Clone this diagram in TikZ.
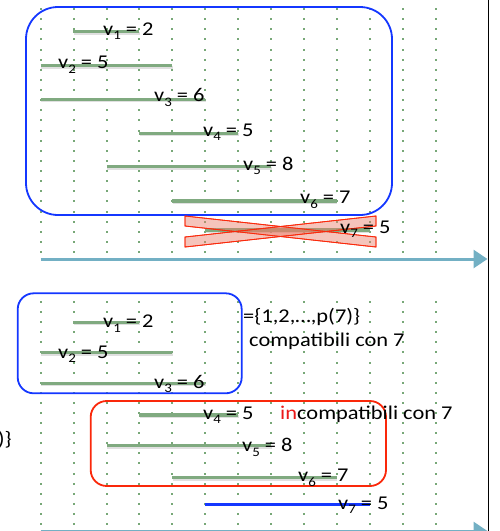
\documentclass[tikz,border=0pt]{standalone}
\usepackage{fontspec}
\setmainfont{Carlito}[FakeStretch=1.15]
\usetikzlibrary{arrows.meta}

\definecolor{barGreen}{RGB}{128,170,128}
\definecolor{dotGreen}{RGB}{120,168,120}
\definecolor{boxBlue}{RGB}{20,55,255}
\definecolor{boxRed}{RGB}{250,40,10}
\definecolor{axisTeal}{RGB}{115,176,196}
\definecolor{crossFill}{RGB}{232,125,105}
\definecolor{wordRed}{RGB}{235,25,25}

% job label "v_i" with a lowered index
\newcommand\vlab[1]{v\raisebox{-4.5pt}{\fontsize{13}{13}\selectfont #1}}

\tikzset{
  gridDot/.style={fill=dotGreen},
  jobBar/.style={draw=barGreen, line width=3.4pt},
  barShade/.style={draw=black!35, line width=3pt, opacity=0.35},
  chosenBar/.style={draw=boxBlue, line width=3pt},
  setBox/.style={draw=boxBlue, line width=1.8pt},
  badBox/.style={draw=boxRed, line width=1.8pt},
  crossBand/.style={draw=boxRed, line width=0.8pt, fill=crossFill, fill opacity=0.45},
  timeAxis/.style={draw=axisTeal, line width=3pt, -{Triangle[length=14pt,width=18pt]}},
  lab/.style={inner sep=0pt, anchor=base west, font=\fontsize{19.5}{22}\selectfont},
}

\begin{document}
\begin{tikzpicture}[x=1pt,y=-1pt]
\useasboundingbox (0,0) rectangle (499,531);
\clip (0,0) rectangle (499,531);

% dotted time grid, upper and lower panels
\foreach \c in {0,...,12}{
  \foreach \r in {0,...,24}
    \fill[gridDot] ({40.7+32.9*\c-1},{9+10.125*\r-1}) rectangle ++(2,2);
  \foreach \r in {0,...,22}
    \fill[gridDot] ({40.7+32.9*\c-1},{302+10.09*\r-1}) rectangle ++(2,2);
}

% ---------- upper panel ----------
\foreach \xa/\xb/\yy in {73.3/139.3/31.7, 40.7/172.3/65.7, 40.7/205.2/99.3,
    139.3/238.1/133.3, 106.5/271/166.7, 172.3/336.8/201, 205.2/369.7/230}{
  \draw[barShade] (\xa+0.5,\yy+1.5) -- (\xb+0.5,\yy+1.5);
  \draw[jobBar] (\xa,\yy) -- (\xb,\yy);
}

\draw[setBox, rounded corners=32pt] (26,7) rectangle (392,215);

% crossed-out job 7
\fill[crossBand] (185,216) -- (376,237) -- (376,247) -- (185,226) -- cycle;
\fill[crossBand] (185,237) -- (376,216) -- (376,226) -- (185,247) -- cycle;
\draw[crossBand, fill=none] (185,216) -- (376,237) -- (376,247) -- (185,226) -- cycle;
\draw[crossBand, fill=none] (185,237) -- (376,216) -- (376,226) -- (185,247) -- cycle;

\node[lab] (u1) at (103,35)    {\vlab{1} = 2};
\node[lab] (u2) at (58,68.5)   {\vlab{2} = 5};
\node[lab] (u3) at (154,101.7) {\vlab{3} = 6};
\node[lab] (u4) at (203,136)   {\vlab{4} = 5};
\node[lab] (u5) at (243,170)   {\vlab{5} = 8};
\node[lab] (u6) at (300,203.5) {\vlab{6} = 7};
\node[lab] (u7) at (340,233)   {\vlab{7} = 5};

\coordinate (ua0) at (40.7,259);
\coordinate (ua1) at (487.5,259);
\draw[timeAxis] (ua0) -- (ua1);

% ---------- lower panel ----------
\foreach \xa/\xb/\yy in {73.3/139.3/322.3, 40.7/172.3/352.7, 40.7/205.2/383.3,
    139.3/238.1/415, 106.5/271/445.7, 172.3/336.8/477.7}{
  \draw[barShade] (\xa+0.5,\yy+1.5) -- (\xb+0.5,\yy+1.5);
  \draw[jobBar] (\xa,\yy) -- (\xb,\yy);
}
\draw[chosenBar] (205.2,504) -- (369.7,504);

\draw[setBox, rounded corners=16pt] (17.7,293.3) rectangle (241.7,393.3);
\draw[badBox, rounded corners=16pt] (90.7,401) rectangle (386,486);

\node[lab] (l1) at (103,327.7) {\vlab{1} = 2};
\node[lab] (l2) at (58,358)    {\vlab{2} = 5};
\node[lab] (l3) at (154,388.3) {\vlab{3} = 6};
\node[lab] (l4) at (203,419.3) {\vlab{4} = 5};
\node[lab] (l5) at (242,451.5) {\vlab{5} = 8};
\node[lab] (l6) at (298,481.7) {\vlab{6} = 7};
\node[lab] (l7) at (338,509.3) {\vlab{7} = 5};

\node[lab] (set) at (243,322)   {=\{1,2,…,p(7)\}};
\node[lab] (ok)  at (249,346.5) {compatibili con 7};
\node[lab] (ko)  at (280,419.3) {\textcolor{wordRed}{in}compatibili con 7};
\node[lab, anchor=base east] (cut) at (12,445) {0)\}};

\coordinate (la0) at (40.7,531);
\coordinate (la1) at (487.5,531);
\draw[timeAxis] (la0) -- (la1);

% right edge rule
\coordinate (e0) at (488.3,0);
\coordinate (e1) at (488.3,531);
\draw[black, line width=1.6pt] (e0) -- (e1);
\end{tikzpicture}
\end{document}
